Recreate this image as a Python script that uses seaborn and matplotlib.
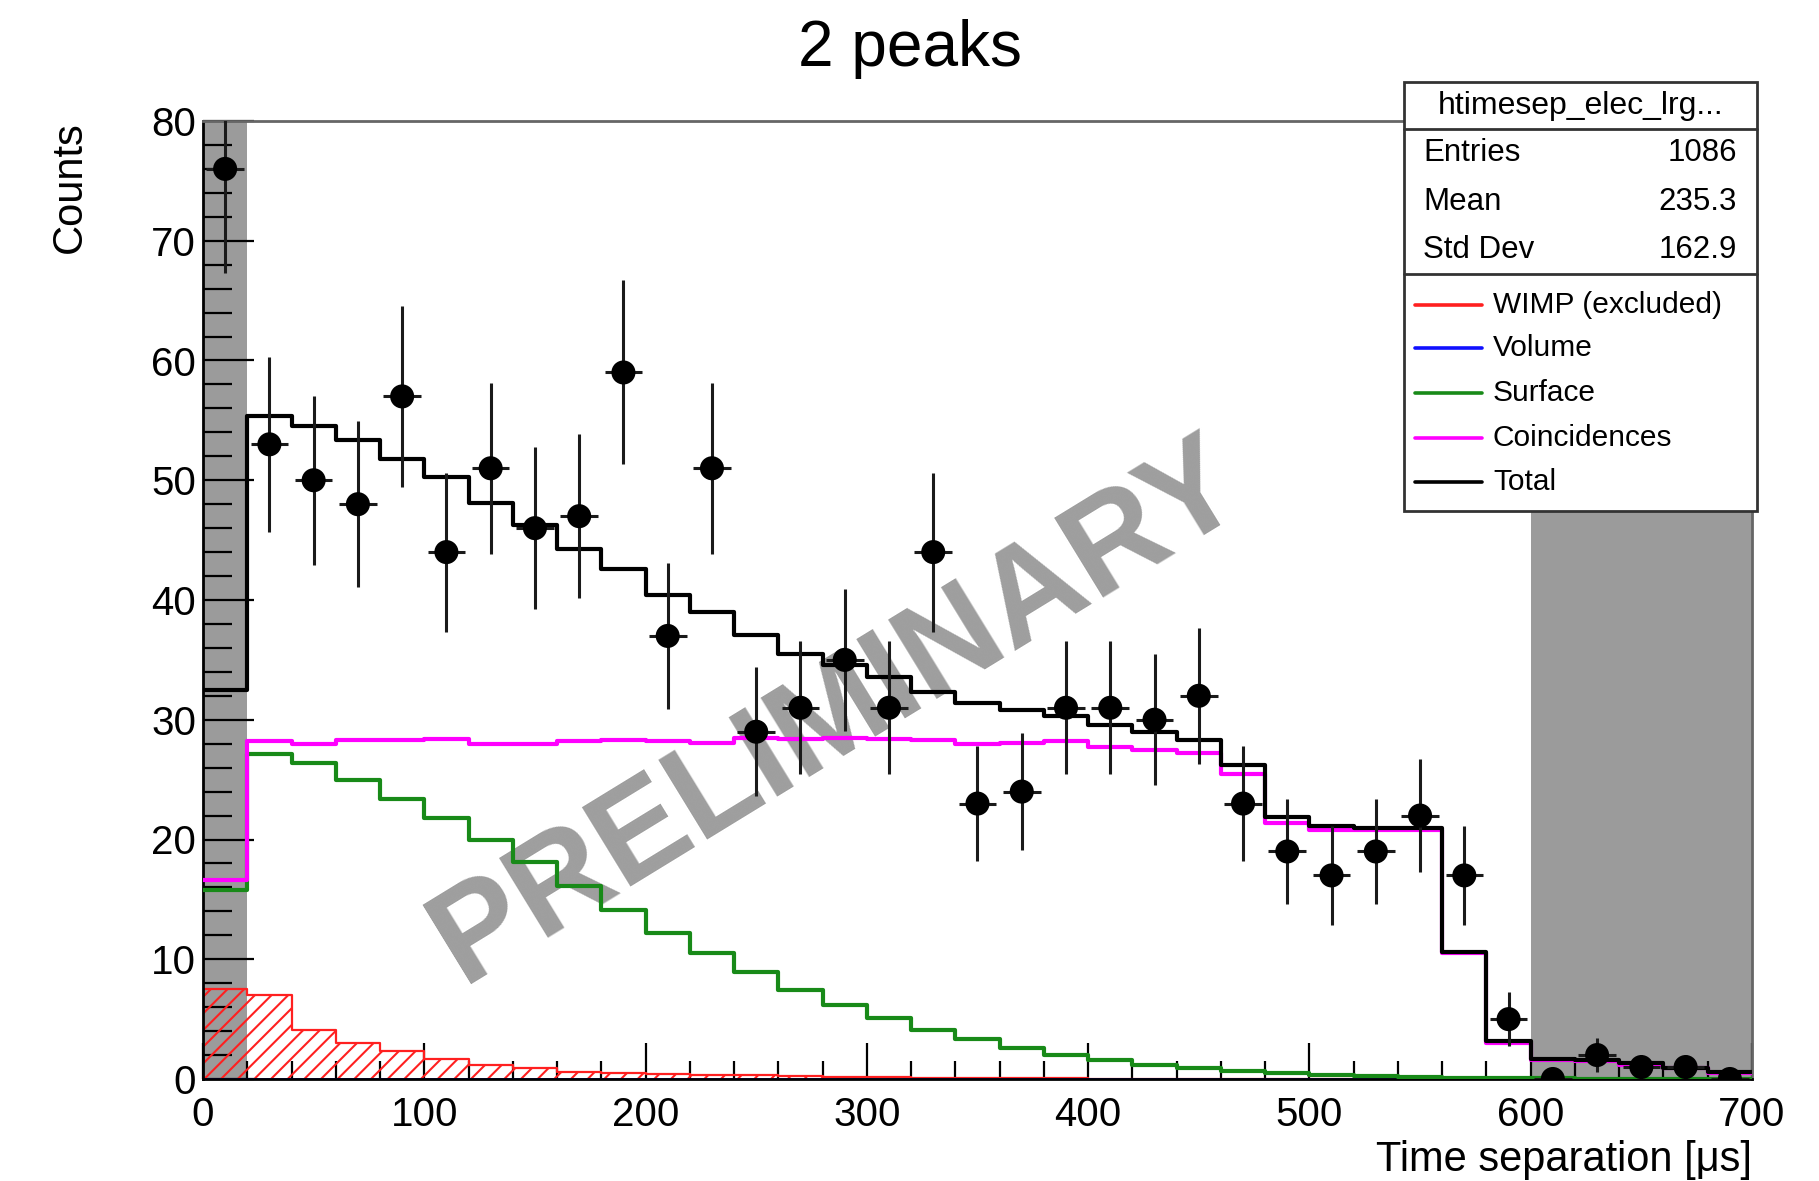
import numpy as np
import pandas as pd
import matplotlib
matplotlib.use("Agg")
import matplotlib.pyplot as plt
import seaborn as sns
from matplotlib.patches import Rectangle
from matplotlib.lines import Line2D
from matplotlib.ticker import MultipleLocator

# ---------------- data ----------------
bin_edges_us = list(range(0, 720, 20))          # 35 bins of 20 us, 0..700
bin_centers_us = np.array(bin_edges_us[:-1]) + 10

data_counts = [76, 53, 50, 48, 57, 44, 51, 46, 47, 59,
               37, 51, 29, 31, 35, 31, 44, 23, 24, 31,
               31, 30, 32, 23, 19, 17, 19, 22, 17, 5,
               0, 2, 1, 1, 0]

total_model = [32.5, 55.4, 54.5, 53.4, 51.8, 50.3, 48.1, 46.3, 44.3, 42.6,
               40.4, 39.0, 37.1, 35.5, 34.6, 33.6, 32.3, 31.4, 30.8, 30.3,
               29.6, 29.0, 28.3, 26.2, 21.9, 21.1, 21.0, 21.0, 10.6, 3.2,
               1.7, 1.6, 1.3, 0.9, 0.6]

coincidences = [16.6, 28.2, 28.0, 28.3, 28.3, 28.4, 28.0, 28.0, 28.2, 28.3,
                28.2, 28.1, 28.5, 28.4, 28.5, 28.4, 28.3, 28.0, 28.1, 28.2,
                27.7, 27.5, 27.2, 25.5, 21.4, 20.8, 20.8, 20.8, 10.5, 3.0,
                1.6, 1.5, 1.2, 0.9, 0.5]

surface = [15.8, 27.1, 26.4, 25.0, 23.4, 21.8, 20.0, 18.1, 16.1, 14.1,
           12.2, 10.5, 8.9, 7.4, 6.2, 5.1, 4.1, 3.3, 2.6, 2.0,
           1.6, 1.2, 0.9, 0.7, 0.5, 0.35, 0.25, 0.18, 0.12, 0.08,
           0.05, 0.04, 0.03, 0.02, 0.01]

volume = [0.0, 0.0, 0.0, 0.0, 0.0, 0.0, 0.0, 0.0, 0.0, 0.0,
          0.0, 0.0, 0.0, 0.0, 0.0, 0.0, 0.0, 0.0, 0.0, 0.0,
          0.0, 0.0, 0.0, 0.0, 0.0, 0.0, 0.0, 0.0, 0.0, 0.0,
          0.0, 0.0, 0.0, 0.0, 0.0]

wimp_excluded = [7.5, 7.0, 4.1, 3.0, 2.3, 1.7, 1.2, 0.9, 0.6, 0.5,
                 0.4, 0.35, 0.3, 0.25, 0.2, 0.15, 0.1, 0.08, 0.06, 0.05,
                 0.04, 0.03, 0.02, 0.0, 0.0, 0.0, 0.0, 0.0, 0.0, 0.0,
                 0.0, 0.0, 0.0, 0.0, 0.0]

x_ticks = [0, 100, 200, 300, 400, 500, 600, 700]
y_ticks = [0, 10, 20, 30, 40, 50, 60, 70, 80]
excluded_regions = [(0, 20), (600, 700)]

stats_title = "htimesep_elec_lrg..."
stats_labels = ["Entries", "Mean", "Std Dev"]
stats_values = ["1086", "235.3", "162.9"]
legend_labels = ["WIMP (excluded)", "Volume", "Surface", "Coincidences", "Total"]
legend_colors = ["#ff2020", "#1010ff", "#188a18", "#ff00ff", "#000000"]

# ---------------- style ----------------
sns.set_style("ticks")
plt.rcParams['font.family'] = ['Liberation Sans', 'DejaVu Sans']
plt.rcParams['text.color'] = 'black'
plt.rcParams['axes.labelcolor'] = 'black'
plt.rcParams['xtick.color'] = 'black'
plt.rcParams['ytick.color'] = 'black'
plt.rcParams['hatch.color'] = '#ff2020'
plt.rcParams['hatch.linewidth'] = 1.5

W, H = 1819, 1181
fig = plt.figure(figsize=(W / 100, H / 100), dpi=100)
ax = fig.add_axes([203 / W, 1 - 1079 / H, 1549 / W, 958 / H])

def fx(px):
    return px / W

def fy(py):
    return 1 - py / H

# grey excluded regions
for lo, hi in excluded_regions:
    ax.axvspan(lo, hi, color='#9b9b9b', lw=0, zorder=0.5)

# watermark
ax.text(287, 30.5, "PRELIMINARY", rotation=31.5, rotation_mode='anchor',
        ha='center', va='center', fontsize=97, fontweight='bold',
        color='#9e9e9e', zorder=1)

df = pd.DataFrame({
    "t": bin_centers_us,
    "wimp": wimp_excluded,
    "volume": volume,
    "surface": surface,
    "coinc": coincidences,
    "total": total_model,
})

# WIMP hatched fill
n_before = len(ax.collections)
sns.histplot(data=df, x="t", weights="wimp", bins=bin_edges_us, element="step",
             fill=True, color=legend_colors[0], ax=ax)
for coll in ax.collections[n_before:]:
    coll.set_facecolor('none')
    coll.set_edgecolor(legend_colors[0])
    coll.set_hatch('//')
    coll.set_linewidth(0)
    coll.set_zorder(2)
sns.histplot(data=df, x="t", weights="wimp", bins=bin_edges_us, element="step",
             fill=False, color=legend_colors[0], linewidth=1.6, ax=ax, zorder=2.1)

for col, colr, lw, z in [("volume", legend_colors[1], 2.0, 2.2),
                         ("surface", legend_colors[2], 3.0, 3),
                         ("coinc", legend_colors[3], 3.0, 3.1),
                         ("total", legend_colors[4], 3.0, 3.2)]:
    sns.histplot(data=df, x="t", weights=col, bins=bin_edges_us, element="step",
                 fill=False, color=colr, linewidth=lw, ax=ax, zorder=z)

# data points with Poisson errors
counts = np.array(data_counts, dtype=float)
ax.errorbar(bin_centers_us, counts, yerr=np.sqrt(counts), xerr=8.5, fmt='none',
            ecolor='#1a1a1a', elinewidth=2.2, capsize=0, zorder=4)
sns.scatterplot(x=bin_centers_us, y=counts, color='black', s=300,
                edgecolor='none', ax=ax, zorder=5, legend=False)

# axes
ax.set_xlim(0, 700)
ax.set_ylim(0, 80)
ax.set_xticks(x_ticks)
ax.set_yticks(y_ticks)
ax.xaxis.set_minor_locator(MultipleLocator(20))
ax.yaxis.set_minor_locator(MultipleLocator(2))
ax.tick_params(axis='y', which='major', direction='in', length=37, width=1.6,
               labelsize=29, pad=5, right=False)
ax.tick_params(axis='y', which='minor', direction='in', length=21, width=1.6, right=False)
ax.tick_params(axis='x', which='major', direction='in', length=26, width=1.6,
               labelsize=29, pad=12, top=False)
ax.tick_params(axis='x', which='minor', direction='in', length=13, width=1.6, top=False)
for s in ax.spines.values():
    s.set_linewidth(2)
    s.set_color('black')
ax.spines['top'].set_color('#666666')
ax.spines['right'].set_color('#666666')

ax.set_ylabel("Counts", fontsize=30, loc='top')
ax.yaxis.set_label_coords(-0.073, 1.0)
ax.set_xlabel("Time separation [μs]", fontsize=30, loc='right')
ax.xaxis.set_label_coords(1.0, -0.064)

fig.text(0.5, fy(49), "2 peaks", fontsize=46, ha='center', va='center')

# ---------------- stats / legend box ----------------
bl, br, bt, bb = 1404, 1757, 82, 511
fig.add_artist(Rectangle((fx(bl), fy(bb)), fx(br) - fx(bl), fy(bt) - fy(bb),
                         transform=fig.transFigure, facecolor='white',
                         edgecolor='#333333', lw=2, zorder=10))
for ysep in (129, 274):
    fig.add_artist(Line2D([fx(bl), fx(br)], [fy(ysep), fy(ysep)],
                          transform=fig.transFigure, color='#333333', lw=2, zorder=11))
fig.text(fx(1581), fy(106), stats_title, fontsize=23, ha='center', va='center', zorder=12)
for lab, val, yy in zip(stats_labels, stats_values, (153, 202, 250)):
    fig.text(fx(1423), fy(yy), lab, fontsize=22.5, ha='left', va='center', zorder=12)
    fig.text(fx(1737), fy(yy), val, fontsize=22.5, ha='right', va='center', zorder=12)
for lab, colr, yy in zip(legend_labels, legend_colors, (305, 348, 393, 438, 482)):
    fig.add_artist(Line2D([fx(1415), fx(1482)], [fy(yy), fy(yy)],
                          transform=fig.transFigure, color=colr, lw=2.6, zorder=12))
    fig.text(fx(1493), fy(yy), lab, fontsize=21.5, ha='left', va='center', zorder=12)

fig.savefig("out.png", dpi=100)
